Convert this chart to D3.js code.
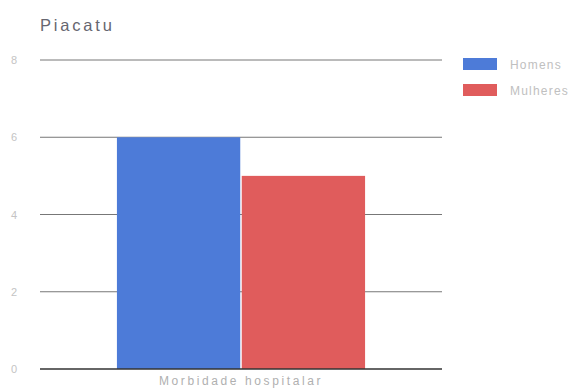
<!DOCTYPE html>
<html>
<head>
<meta charset="utf-8">
<script src="https://cdn.jsdelivr.net/npm/d3@7/dist/d3.min.js"></script>
<style>
  html, body { margin: 0; padding: 0; background: #fff; }
  svg { display: block; font-family: Arial, "Liberation Sans", sans-serif; }
</style>
</head>
<body>
<svg id="chart" width="585" height="392"></svg>
<script>
const title = "Piacatu";
const categories = ["Morbidade hospitalar"];
const seriesNames = ["Homens", "Mulheres"];
const seriesColors = ["#4d7bd8", "#e05c5c"];
const homens = [6];
const mulheres = [5];
const yTicks = [0, 2, 4, 6, 8];

const svg = d3.select("#chart");
const margin = { left: 40, right: 143, top: 60, bottom: 23 };
const W = 585, H = 392;

const x0 = d3.scaleBand().domain(categories)
  .range([margin.left, W - margin.right]).paddingInner(0).paddingOuter(0.31);
const x1 = d3.scaleBand().domain(seriesNames).range([0, x0.bandwidth()]).paddingInner(0.012);
const y = d3.scaleLinear().domain([0, 8]).range([H - margin.bottom, margin.top]);

svg.append("text").attr("x", 40).attr("y", 31)
  .attr("font-size", 16.5).attr("fill", "#666670").attr("letter-spacing", 2.8).text(title);

// gridlines
svg.append("g").selectAll("line").data(yTicks.filter(d => d > 0)).join("line")
  .attr("x1", margin.left).attr("x2", W - margin.right)
  .attr("y1", d => y(d)).attr("y2", d => y(d))
  .attr("stroke", "#777").attr("stroke-width", 1);

// y-axis labels
const yAxis = d3.axisLeft(y).tickValues(yTicks).tickSize(0).tickPadding(0);
const ya = svg.append("g").attr("transform", "translate(14,0)").call(yAxis);
ya.select(".domain").remove();
ya.selectAll("text").attr("font-size", 11).attr("fill", "#c4c4c4").attr("text-anchor", "middle");

// bars
const rows = categories.map((c, i) => ({ c, vals: [homens[i], mulheres[i]] }));
const g = svg.append("g");
rows.forEach(r => {
  g.selectAll(null).data(r.vals).join("rect")
    .attr("x", (d, j) => x0(r.c) + x1(seriesNames[j]))
    .attr("width", x1.bandwidth())
    .attr("y", d => y(d))
    .attr("height", d => y(0) - y(d))
    .attr("fill", (d, j) => seriesColors[j]);
});

// baseline
svg.append("line").attr("x1", margin.left).attr("x2", W - margin.right)
  .attr("y1", y(0)).attr("y2", y(0)).attr("stroke", "#333").attr("stroke-width", 1.5);

// category labels
const xAxis = d3.axisBottom(x0).tickSize(0).tickPadding(7);
const xa = svg.append("g").attr("transform", `translate(0,${y(0)})`).call(xAxis);
xa.select(".domain").remove();
xa.selectAll("text").attr("font-size", 12).attr("fill", "#b0b0b0").attr("letter-spacing", 2.6);

// legend
const leg = svg.append("g").attr("transform", "translate(463,58)");
seriesNames.forEach((n, i) => {
  const row = leg.append("g").attr("transform", `translate(0,${i * 26})`);
  row.append("rect").attr("width", 34).attr("height", 12).attr("fill", seriesColors[i]);
  row.append("text").attr("x", 47).attr("y", 11).attr("font-size", 12)
    .attr("fill", "#c0c0c0").attr("letter-spacing", 1.2).text(n);
});
</script>
</body>
</html>
